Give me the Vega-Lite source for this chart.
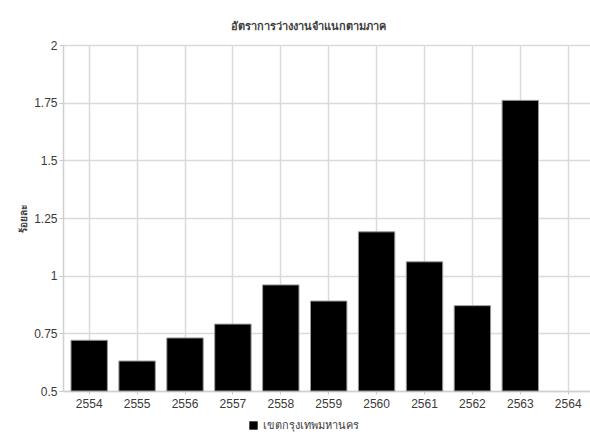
{
  "$schema": "https://vega.github.io/schema/vega-lite/v6.json",
  "autosize": {"type": "none"},
  "width": 527,
  "height": 346,
  "padding": {"left": 63, "top": 45, "right": 0, "bottom": 46},
  "background": "#ffffff",
  "title": {
    "text": "อัตราการว่างงานจำแนกตามภาค",
    "fontSize": 11,
    "fontWeight": "bold",
    "color": "#404040",
    "font": "Noto Sans",
    "offset": 7,
    "dx": -18
  },
  "data": {
    "values": [
      {"year": "2554", "region": "เขตกรุงเทพมหานคร", "rate": 0.72},
      {"year": "2555", "region": "เขตกรุงเทพมหานคร", "rate": 0.63},
      {"year": "2556", "region": "เขตกรุงเทพมหานคร", "rate": 0.73},
      {"year": "2557", "region": "เขตกรุงเทพมหานคร", "rate": 0.79},
      {"year": "2558", "region": "เขตกรุงเทพมหานคร", "rate": 0.96},
      {"year": "2559", "region": "เขตกรุงเทพมหานคร", "rate": 0.89},
      {"year": "2560", "region": "เขตกรุงเทพมหานคร", "rate": 1.19},
      {"year": "2561", "region": "เขตกรุงเทพมหานคร", "rate": 1.06},
      {"year": "2562", "region": "เขตกรุงเทพมหานคร", "rate": 0.87},
      {"year": "2563", "region": "เขตกรุงเทพมหานคร", "rate": 1.76},
      {"year": "2564", "region": "เขตกรุงเทพมหานคร", "rate": null}
    ]
  },
  "mark": {"type": "bar", "stroke": "#9a9a9a", "strokeWidth": 1},
  "encoding": {
    "x": {
      "field": "year",
      "type": "ordinal",
      "scale": {
        "domain": ["2554", "2555", "2556", "2557", "2558", "2559", "2560", "2561", "2562", "2563", "2564"],
        "paddingInner": 0.24,
        "paddingOuter": 0.121,
        "align": 0.69
      },
      "axis": {
        "title": null,
        "labelAngle": 0,
        "bandPosition": 0.5,
        "grid": true,
        "gridColor": "#dadada",
        "gridWidth": 1.5,
        "domainColor": "#d0d0d0",
        "domainWidth": 1.5,
        "tickColor": "#c8c8c8",
        "tickSize": 3,
        "labelFont": "Liberation Sans",
        "labelFontSize": 12,
        "labelColor": "#3a3a3a",
        "labelPadding": 4
      }
    },
    "y": {
      "field": "rate",
      "type": "quantitative",
      "scale": {"domain": [0.5, 2], "zero": false, "nice": false},
      "axis": {
        "title": "ร้อยละ",
        "titleFont": "Noto Sans",
        "titleFontSize": 10,
        "titleFontWeight": "bold",
        "titleColor": "#404040",
        "titlePadding": 5,
        "values": [0.5, 0.75, 1, 1.25, 1.5, 1.75, 2],
        "format": ".2~f",
        "grid": true,
        "gridColor": "#dadada",
        "gridWidth": 1.5,
        "domainColor": "#d0d0d0",
        "domainWidth": 1.5,
        "tickColor": "#c8c8c8",
        "tickSize": 4,
        "labelFont": "Liberation Sans",
        "labelFontSize": 12,
        "labelColor": "#3a3a3a",
        "labelPadding": 2
      }
    },
    "y2": {"datum": 0.5},
    "color": {
      "field": "region",
      "type": "nominal",
      "scale": {"range": ["#000000"]},
      "legend": {
        "title": null,
        "orient": "none",
        "legendX": 185,
        "legendY": 375,
        "direction": "horizontal",
        "symbolType": "square",
        "symbolSize": 70,
        "symbolStrokeWidth": 0,
        "labelFont": "Noto Sans",
        "labelFontSize": 11,
        "labelColor": "#404040"
      }
    }
  },
  "config": {
    "view": {"stroke": null}
  }
}
